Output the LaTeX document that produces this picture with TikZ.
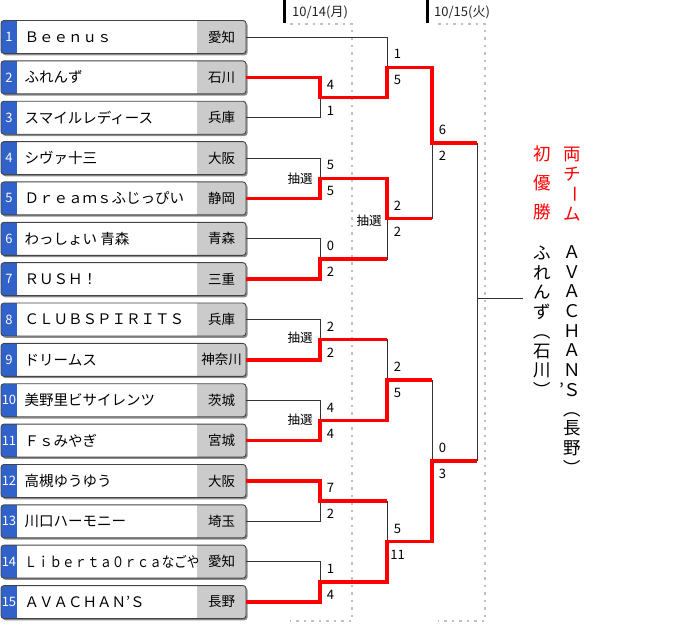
\documentclass[tikz,border=0pt]{standalone}
\usepackage{fontspec}
\setmainfont{Noto Sans CJK JP}
\usepackage{graphicx}
\usetikzlibrary{shadows}
\definecolor{stripblue}{HTML}{3162C9}
\definecolor{prefgray}{HTML}{CBCBCB}
\definecolor{boxline}{HTML}{444444}
\definecolor{lineblack}{HTML}{333333}
\definecolor{winred}{HTML}{FF0000}
\definecolor{dotgray}{HTML}{C0C0C0}
\definecolor{headtext}{HTML}{222222}
\newcommand\tcell[2]{\hbox to 22pt{\hss\vbox to #1{\vss\hbox{#2}\vss}\hss}}
\newcommand\scorepair[3]{%
  \node[score] (#1u) at ([xshift=10.5pt,yshift=13pt]#1) {#2};
  \node[score] (#1d) at ([xshift=10.5pt,yshift=-13pt]#1) {#3};}
\begin{document}
\begin{tikzpicture}[x=1pt,y=-1pt,
  team/.style={draw=boxline, line width=0.9pt, rounded corners=3pt, fill=white,
    minimum width=245pt, minimum height=33pt, inner sep=0pt,
    drop shadow={shadow xshift=1.6pt, shadow yshift=-1.8pt, fill=black!60, opacity=0.75},
    path picture={
      \fill[stripblue, sharp corners] (path picture bounding box.north west) rectangle ([xshift=16pt]path picture bounding box.south west);
      \fill[prefgray, sharp corners] ([xshift=-49pt]path picture bounding box.north east) rectangle (path picture bounding box.south east);
    }},
  numtext/.style={text=white, font=\fontsize{13}{15}\selectfont, inner sep=0pt},
  nametext/.style={anchor=west, font=\fontsize{14.5}{16}\selectfont, inner sep=0pt},
  preftext/.style={font=\fontsize{13.5}{15}\selectfont, inner sep=0pt},
  bline/.style={draw=lineblack, line width=0.9pt},
  rline/.style={draw=winred, line width=3.5pt},
  score/.style={font=\fontsize{13}{15}\selectfont, inner sep=0pt},
  lot/.style={font=\fontsize{12.5}{14}\selectfont, inner sep=0pt},
  dotline/.style={draw=dotgray, line width=2pt, dash pattern=on 2.5pt off 5pt},
  headbar/.style={fill=black},
  headlabel/.style={anchor=west, text=headtext, font=\fontsize{13}{15}\selectfont, inner sep=0pt},
  champred/.style={anchor=north, text=winred, font=\fontsize{17.5}{20}\selectfont, inner sep=0pt},
  champblack/.style={anchor=north, text=black, font=\fontsize{17.5}{20}\selectfont, inner sep=0pt}
]
\useasboundingbox (0,0) rectangle (700,627);

% date columns
\fill[headbar] (282.5,0) rectangle (285.5,23);
\fill[headbar] (425.5,0) rectangle (428.5,23);
\node[headlabel] (d1) at (292,12) {10/14(月)};
\node[headlabel] (d2) at (434,12) {10/15(火)};
\draw[dotline] (290,24) -- (352,24) -- (352,621) -- (290,621);
\draw[dotline] (438,24) -- (485,24) -- (485,621) -- (438,621);

% team boxes
\foreach \i/\nm/\pf in {1/Ｂｅｅｎｕｓ/愛知, 2/ふれんず/石川, 3/スマイルレディース/兵庫,
  4/シヴァ十三/大阪, 5/Ｄｒｅａｍｓふじっぴい/静岡, 6/わっしょい 青森/青森, 7/ＲＵＳＨ！/三重,
  8/ＣＬＵＢＳＰＩＲＩＴＳ/兵庫, 9/ドリームス/神奈川, 10/美野里ビサイレンツ/茨城,
  11/Ｆｓみやぎ/宮城, 12/高槻ゆうゆう/大阪, 13/川口ハーモニー/埼玉,
  14/{\scalebox{0.86}[1]{Ｌｉｂｅｒｔａ０ｒｃａなごや}}/愛知, 15/ＡＶＡＣＨＡＮ’Ｓ/長野}{
  \pgfmathsetmacro\yy{37+(\i-1)*40.36}
  \node[team] (t\i) at (123.5,\yy) {};
  \node[numtext] (n\i) at (9,\yy) {\i};
  \node[nametext] (nm\i) at (24.5,\yy) {\nm};
  \node[preftext] (p\i) at (221.5,\yy) {\pf};
}

% junctions
\coordinate (j23) at (320,97.54);
\coordinate (j45) at (320,178.26);
\coordinate (j67) at (320,258.98);
\coordinate (j89) at (320,339.70);
\coordinate (j1011) at (320,420.42);
\coordinate (j1213) at (320,501.14);
\coordinate (j1415) at (320,581.86);
\coordinate (k1) at (387,67.27);
\coordinate (k2) at (387,218.62);
\coordinate (k3) at (387,380.06);
\coordinate (k4) at (387,541.50);
\coordinate (s1) at (432,142.95);
\coordinate (s2) at (432,460.78);
\coordinate (fin) at (477,298);
\coordinate (champ) at (523,298);

% black bracket
\draw[bline] (t2.east) -| (j23);  \draw[bline] (t3.east) -| (j23);
\draw[bline] (t4.east) -| (j45);  \draw[bline] (t5.east) -| (j45);
\draw[bline] (t6.east) -| (j67);  \draw[bline] (t7.east) -| (j67);
\draw[bline] (t8.east) -| (j89);  \draw[bline] (t9.east) -| (j89);
\draw[bline] (t10.east) -| (j1011); \draw[bline] (t11.east) -| (j1011);
\draw[bline] (t12.east) -| (j1213); \draw[bline] (t13.east) -| (j1213);
\draw[bline] (t14.east) -| (j1415); \draw[bline] (t15.east) -| (j1415);
\draw[bline] (t1.east) -| (k1);  \draw[bline] (j23) -| (k1);
\draw[bline] (j45) -| (k2);  \draw[bline] (j67) -| (k2);
\draw[bline] (j89) -| (k3);  \draw[bline] (j1011) -| (k3);
\draw[bline] (j1213) -| (k4); \draw[bline] (j1415) -| (k4);
\draw[bline] (k1) -| (s1); \draw[bline] (k2) -| (s1);
\draw[bline] (k3) -| (s2); \draw[bline] (k4) -| (s2);
\draw[bline] (s1) -| (fin); \draw[bline] (s2) -| (fin);
\draw[bline] (fin) -- (champ);

% winners in red
\draw[rline] (t2.east) -| (j23) -| (k1) -| (s1) -- (s1 -| fin);
\draw[rline] (t5.east) -| (j45) -| (k2) -- (k2 -| s1);
\draw[rline] (t7.east) -| (j67) -- (j67 -| k2);
\draw[rline] (t9.east) -| (j89) -- (j89 -| k3);
\draw[rline] (t11.east) -| (j1011) -| (k3) -- (k3 -| s2);
\draw[rline] (t12.east) -| (j1213) -- (j1213 -| k4);
\draw[rline] (t15.east) -| (j1415) -| (k4) -| (s2) -- (s2 -| fin);

% scores
\scorepair{j23}{4}{1}
\scorepair{j45}{5}{5}
\scorepair{j67}{0}{2}
\scorepair{j89}{2}{2}
\scorepair{j1011}{4}{4}
\scorepair{j1213}{7}{2}
\scorepair{j1415}{1}{4}
\scorepair{k1}{1}{5}
\scorepair{k2}{2}{2}
\scorepair{k3}{2}{5}
\scorepair{k4}{5}{11}
\scorepair{s1}{6}{2}
\scorepair{s2}{0}{3}

% lottery labels
\node[lot] (l45) at ([xshift=-20pt]j45) {抽選};
\node[lot] (l89) at ([xshift=-20pt,yshift=2pt]j89) {抽選};
\node[lot] (l1011) at ([xshift=-20pt,yshift=1pt]j1011) {抽選};
\node[lot] (lk2) at ([xshift=-18pt,yshift=-2pt]k2) {抽選};

% champions (vertical text)
\node[champred] (c1) at (572,144) {\vbox{\offinterlineskip
  \tcell{20pt}{両}\tcell{20pt}{チ}\tcell{20pt}{\rotatebox[origin=c]{-90}{ー}}\tcell{20pt}{ム}}};
\node[champred] (c2) at (542,139.5) {\vbox{\offinterlineskip
  \tcell{29pt}{初}\tcell{29pt}{優}\tcell{29pt}{勝}}};
\node[champblack] (c3) at (542,243.2) {\vbox{\offinterlineskip
  \tcell{19.6pt}{ふ}\tcell{19.6pt}{れ}\tcell{19.6pt}{ん}\tcell{19.6pt}{ず}%
  \tcell{19.6pt}{\rotatebox[origin=c]{-90}{（}}\tcell{19.6pt}{石}\tcell{19.6pt}{川}%
  \tcell{19.6pt}{\rotatebox[origin=c]{-90}{）}}}};
\node[champblack] (c4) at (572,242.2) {\vbox{\offinterlineskip
  \tcell{19.6pt}{Ａ}\tcell{19.6pt}{Ｖ}\tcell{19.6pt}{Ａ}\tcell{19.6pt}{Ｃ}%
  \tcell{19.6pt}{Ｈ}\tcell{19.6pt}{Ａ}\tcell{19.6pt}{Ｎ}%
  \tcell{19.6pt}{\makebox[0pt][r]{’\kern-1pt}Ｓ}%
  \tcell{19.6pt}{\rotatebox[origin=c]{-90}{（}}\tcell{19.6pt}{長}\tcell{19.6pt}{野}%
  \tcell{19.6pt}{\rotatebox[origin=c]{-90}{）}}}};
\end{tikzpicture}
\end{document}
